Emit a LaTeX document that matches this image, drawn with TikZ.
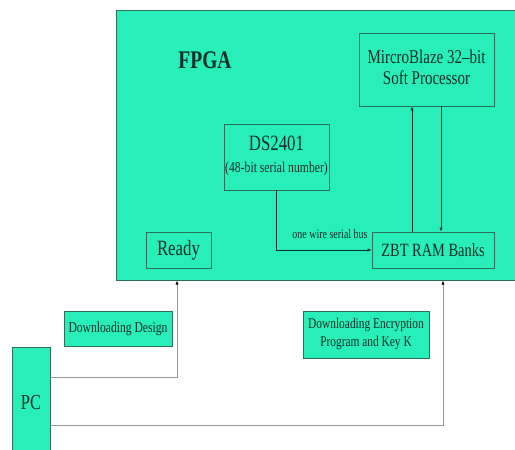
\documentclass[tikz,border=0pt]{standalone}
\usepackage{fontspec}
\usepackage{graphicx}
\setmainfont{Liberation Serif}
\usetikzlibrary{arrows.meta,calc}
\definecolor{mint}{RGB}{40,238,186}
\definecolor{edge}{RGB}{45,110,90}
\definecolor{ink}{RGB}{18,48,38}
\definecolor{wire}{RGB}{150,150,150}
\newcommand\vs[1]{\scalebox{1}[1.3]{#1}}
\newcommand\fs[2]{\fontsize{#1}{#2}\selectfont}
\tikzset{
  blk/.style={draw=edge, line width=0.8pt, fill=mint, inner sep=0pt, text=ink, align=center},
  arr/.style={draw=ink, line width=0.7pt, -{Latex[length=4pt,width=3.2pt]}},
  gw/.style={draw=wire, line width=0.8pt, -{Latex[length=4pt,width=3.2pt,color=black]}}
}
\begin{document}
\begin{tikzpicture}[x=1pt,y=-1pt]
\useasboundingbox (0,0) rectangle (515,450);
% FPGA area
\node[blk, line width=1pt, minimum width=404pt, minimum height=270pt] (fpga) at (318,145) {};
\node[text=ink, inner sep=0pt] (fpgalbl) at (205,60) {\vs{\fs{19.5}{22}\bfseries FPGA}};
\node[blk, minimum width=135pt, minimum height=73pt] (mb) at (426.5,69.5)
  {\raisebox{-3pt}{\vs{\begin{tabular}{@{}c@{}}\fs{15}{17}MircroBlaze 32–bit\\[2pt]\fs{15}{17}Soft Processor\end{tabular}}}};
\node[blk, minimum width=105pt, minimum height=66pt] (ds) at (276.5,157)
  {\raisebox{-2pt}{\vs{\begin{tabular}{@{}c@{}}\fs{16.8}{19}DS2401\\[5pt]\fs{11.7}{13}(48-bit serial number)\end{tabular}}}};
\node[blk, minimum width=65pt, minimum height=36pt] (ready) at (178.5,250) {\vs{\fs{16.8}{19}Ready}};
\node[blk, minimum width=122pt, minimum height=36pt] (zbt) at (433,250) {\vs{\fs{14.4}{17}ZBT RAM Banks}};
% outside
\node[blk, minimum width=108pt, minimum height=35pt] (dd) at (118,328.5) {\vs{\fs{11.6}{14}Downloading Design}};
\node[blk, minimum width=126pt, minimum height=47pt] (de) at (366,334.5)
  {\raisebox{-1pt}{\vs{\begin{tabular}{@{}c@{}}\fs{11.4}{14}Downloading Encryption\\[1.5pt]\fs{11.4}{14}Program and Key K\end{tabular}}}};
\node[blk, minimum width=38pt, minimum height=110pt] (pc) at (31,402) {};
\node[text=ink, inner sep=0pt] (pclbl) at (31,403) {\vs{\fs{16.4}{19}PC}};
% internal connectors
\path ([xshift=-21pt]zbt.north) coordinate (ua);
\path ([xshift=14.5pt]mb.south) coordinate (da);
\draw[arr] (ua) -- (ua |- mb.south);
\draw[arr] (da) -- (da |- zbt.north);
\draw[arr] (ds.south) |- (zbt.west);
\node[text=ink, inner sep=0pt] (bus) at (330,234) {\vs{\fs{10}{12}one wire serial bus}};
% PC connectors
\path ([yshift=25pt]pc.east) coordinate (p1);
\path ([yshift=-23pt]pc.east) coordinate (p2);
\path ([xshift=10pt]zbt.south) coordinate (zb);
\path ([xshift=-1.5pt]ready.south) coordinate (rb);
\draw[gw] (p1) -| (rb |- fpga.south);
\draw[gw] (p2) -| (zb |- fpga.south);
\end{tikzpicture}
\end{document}
